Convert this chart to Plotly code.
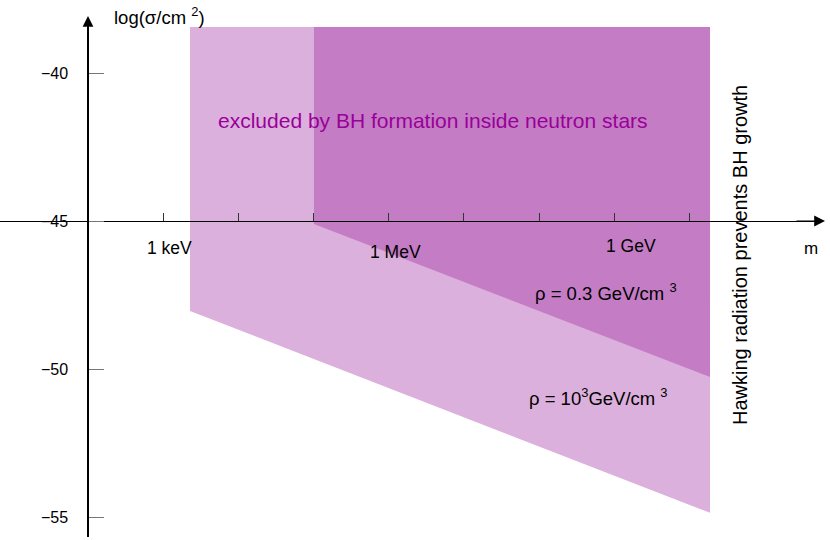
import plotly.graph_objects as go

# ---- data (log10 of mass in eV, log10 of cross-section in cm^2) ----
light_mass = [3.357, 10.275]
light_upper = [-38.45, -38.45]
light_lower = [-48.04, -54.86]

dark_mass = [5.006, 10.275]
dark_upper = [-38.45, -38.45]
dark_lower = [-45.10, -50.27]

x_tick_vals = [3, 4, 5, 6, 7, 8, 9, 10]
x_label_vals = [3, 6, 9]
x_label_text = ["1 keV", "1 MeV", "1 GeV"]
y_tick_vals = [-40, -45, -50, -55]
y_tick_text = ["\u221240", "\u221245", "\u221250", "\u221255"]

W, H = 830, 540
FONT = "Liberation Sans, Arial, sans-serif"
LIGHT = "#dcb0dc"
DARK = "#c47cc4"
PURPLE = "#990099"


def px(x):
    return x / W


def py(y):
    return (H - y) / H


def polygon(mass, upper, lower):
    xs = [mass[0], mass[1], mass[1], mass[0], mass[0]]
    ys = [upper[0], upper[1], lower[1], lower[0], upper[0]]
    return xs, ys


fig = go.Figure()
lx, ly = polygon(light_mass, light_upper, light_lower)
fig.add_trace(go.Scatter(x=lx, y=ly, mode="lines", fill="toself",
                         fillcolor=LIGHT, line=dict(width=0, color=LIGHT),
                         hoverinfo="skip", showlegend=False))
dx, dy = polygon(dark_mass, dark_upper, dark_lower)
fig.add_trace(go.Scatter(x=dx, y=dy, mode="lines", fill="toself",
                         fillcolor=DARK, line=dict(width=0, color=DARK),
                         hoverinfo="skip", showlegend=False))

# axis geometry (pixels): y-axis at x=88, x-axis at y=221
XSCALE = 75.17   # px per decade
YSCALE = 29.6    # px per unit
x_dom_right = 0.99
x_lo = 2 - 88 / XSCALE
x_hi = 2 + (x_dom_right * W - 88) / XSCALE
y_dom = [(H - 537) / H, (H - 18) / H]
y_lo = -45 - (537 - 221) / YSCALE
y_hi = -45 + (221 - 18) / YSCALE

fig.update_layout(
    width=W, height=H,
    margin=dict(l=0, r=0, t=0, b=0),
    paper_bgcolor="white", plot_bgcolor="white",
    font=dict(family=FONT, size=16, color="black"),
    xaxis=dict(range=[x_lo, x_hi], domain=[0, x_dom_right],
               anchor="free", position=py(221),
               showline=True, linecolor="black", linewidth=1,
               showgrid=False, zeroline=False,
               ticks="inside", ticklen=8, tickwidth=1, tickcolor="#333",
               tickvals=x_tick_vals, showticklabels=False),
    yaxis=dict(range=[y_lo, y_hi], domain=y_dom,
               anchor="free", position=px(88),
               showline=True, linecolor="black", linewidth=1.5,
               showgrid=False, zeroline=False,
               ticks="inside", ticklen=15, tickwidth=1, tickcolor="#777",
               tickvals=y_tick_vals, ticktext=y_tick_text,
               ticklabelstandoff=16,
               tickfont=dict(family=FONT, size=16, color="black")),
)

# x tick labels (placed slightly right of / below their ticks, as in the original)
label_shift = [(6, 248), (7, 252), (17, 246)]
for val, txt, (dxs, ypix) in zip(x_label_vals, x_label_text, label_shift):
    fig.add_annotation(xref="x", yref="paper", x=val, y=py(ypix), xshift=dxs,
                       xanchor="center", yanchor="middle", showarrow=False,
                       text=txt, font=dict(family=FONT, size=17.5, color="black"))

# arrowheads on axes
fig.add_annotation(xref="paper", yref="paper", x=px(825), y=py(221),
                   ax=-30, ay=0, text="", showarrow=True,
                   arrowhead=2, arrowsize=1.8, arrowwidth=1.2, arrowcolor="black")
fig.add_annotation(xref="paper", yref="paper", x=px(88), y=py(16),
                   ax=0, ay=30, text="", showarrow=True,
                   arrowhead=2, arrowsize=1.8, arrowwidth=1.2, arrowcolor="black")

# axis titles
fig.add_annotation(xref="paper", yref="paper", x=px(112), y=py(16),
                   xanchor="left", yanchor="middle", showarrow=False,
                   text="log(\u03c3/cm <sup>2</sup>)",
                   font=dict(family=FONT, size=18.5, color="black"))
fig.add_annotation(xref="paper", yref="paper", x=px(811), y=py(248),
                   xanchor="center", yanchor="middle", showarrow=False,
                   text="m", font=dict(family=FONT, size=17, color="black"))

# region labels
fig.add_annotation(xref="paper", yref="paper", x=px(433), y=py(120),
                   xanchor="center", yanchor="middle", showarrow=False,
                   text="excluded by BH formation inside neutron stars",
                   font=dict(family=FONT, size=21, color=PURPLE))
fig.add_annotation(xref="paper", yref="paper", x=px(606), y=py(292),
                   xanchor="center", yanchor="middle", showarrow=False,
                   text="\u03c1 = 0.3 GeV/cm <sup>3</sup>",
                   font=dict(family=FONT, size=18.5, color="black"))
fig.add_annotation(xref="paper", yref="paper", x=px(598), y=py(397),
                   xanchor="center", yanchor="middle", showarrow=False,
                   text="\u03c1 = 10<sup>3</sup>GeV/cm <sup>3</sup>",
                   font=dict(family=FONT, size=18.5, color="black"))
fig.add_annotation(xref="paper", yref="paper", x=px(740), y=py(255),
                   xanchor="center", yanchor="middle", showarrow=False,
                   textangle=-90,
                   text="Hawking radiation prevents BH growth",
                   font=dict(family=FONT, size=20, color="black"))

fig.write_html("out.html",
               config={"displayModeBar": False},
               post_script="document.body.style.margin='0';"
                           "document.body.style.padding='0';")
